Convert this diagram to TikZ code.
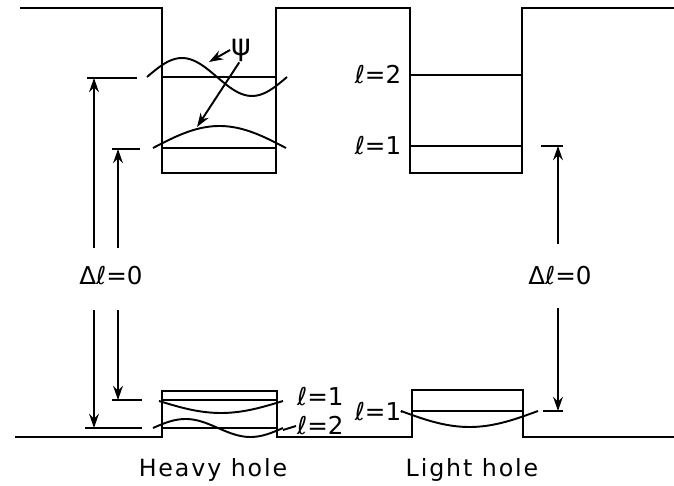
\documentclass[tikz,border=0pt]{standalone}
\usepackage{fontspec}
\setmainfont{DejaVu Sans}
\newfontfamily\spacedfont[LetterSpace=8]{DejaVu Sans}
\usetikzlibrary{arrows.meta}

\begin{document}
\begin{tikzpicture}[
  x=0.02cm, y=-0.02cm,
  line width=1.25pt,
  >={Stealth[length=8pt,width=5.5pt]},
  every node/.style={inner sep=0pt},
  lbl/.style={font=\fontsize{14}{14}\selectfont},
  bandlbl/.style={font=\spacedfont\fontsize{13.5}{13.5}\selectfont},
  wave/.style={line width=1.1pt, smooth, samples=50},
  tick/.style={line width=1.1pt}
]
  \useasboundingbox (0,0) rectangle (674,486);

  % --- band edges ---
  \draw (20,8) -- (162,8) -- (162,173) -- (276,173) -- (276,8) -- (410,8)
        -- (410,173) -- (522,173) -- (522,8) -- (674,8);
  \draw (15,437) -- (162,437) -- (162,391) -- (277,391) -- (277,437) -- (412,437)
        -- (412,390) -- (523,390) -- (523,437) -- (674,437);

  % --- levels ---
  \draw (162,77) -- (276,77);
  \draw (162,148) -- (276,148);
  \draw (410,75) -- (522,75);
  \draw (410,146) -- (522,146);
  \draw (162,400) -- (277,400);
  \draw (162,428) -- (277,428);
  \draw (412,411) -- (523,411);

  % --- wave functions ---
  \draw[wave] plot[domain=147:287] (\x, {77-19*sin((\x-147)/140*360)});
  \draw[wave] plot[domain=153:286] (\x, {148-22*sin((\x-153)/133*180)});
  \draw[wave] plot[domain=159:283] (\x, {401+12*sin((\x-159)/124*180)});
  \draw[wave] plot[domain=153:283] (\x, {428-9*sin((\x-153)/130*360)});
  \draw[wave] plot[domain=401:538] (\x, {411+16*sin((\x-401)/137*180)});

  % --- labels ---
  \node[lbl] (psi) at (241,50) {\fontsize{17}{17}\selectfont ψ};
  \node[lbl] (l2top) at (378,75) {ℓ=2};
  \node[lbl] (l1top) at (378,146) {ℓ=1};
  \node[lbl, anchor=west] (l1hh) at (296,397) {ℓ=1};
  \node[lbl, anchor=west] (l2hh) at (296,426) {ℓ=2};
  \node[lbl] (l1lh) at (378,412) {ℓ=1};
  \node[lbl] (dlL) at (111,276) {Δℓ=0};
  \node[lbl] (dlR) at (560,276) {Δℓ=0};
  \node[bandlbl] (hh) at (213,470) {Heavy hole};
  \node[bandlbl] (lh) at (472,470) {Light hole};

  % --- label leads ---
  \coordinate (psiA) at (209,62);
  \coordinate (psiB) at (197,127);
  \draw[->, tick] (psi.west) -- (psiA);
  \draw[->, tick] ([xshift=-1pt]psi.south) -- (psiB);
  \draw[tick] (283,430) -- (l2hh.west);
  \draw[tick] (l1lh.east) -- (401,411);

  % --- level ticks ---
  \draw[tick] (87,78) -- (137,78);
  \draw[tick] (112,149) -- (140,149);
  \draw[tick] (112,400) -- (142,400);
  \draw[tick] (85,428) -- (142,428);
  \draw[tick] (541,146) -- (563,146);
  \draw[tick] (543,411) -- (563,411);

  % --- transitions ---
  \coordinate (oTop) at (94,78);
  \coordinate (oGapA) at (94,248);
  \coordinate (oGapB) at (94,310);
  \coordinate (oBot) at (94,428);
  \coordinate (iTop) at (118,149);
  \coordinate (iGapA) at (118,248);
  \coordinate (iGapB) at (118,310);
  \coordinate (iBot) at (118,400);
  \coordinate (rTop) at (558,146);
  \coordinate (rGapA) at (558,244);
  \coordinate (rGapB) at (558,308);
  \coordinate (rBot) at (558,411);
  \draw[<-] (oTop) -- (oGapA);
  \draw[->] (oGapB) -- (oBot);
  \draw[<-] (iTop) -- (iGapA);
  \draw[->] (iGapB) -- (iBot);
  \draw[<-] (rTop) -- (rGapA);
  \draw[->] (rGapB) -- (rBot);
\end{tikzpicture}
\end{document}
